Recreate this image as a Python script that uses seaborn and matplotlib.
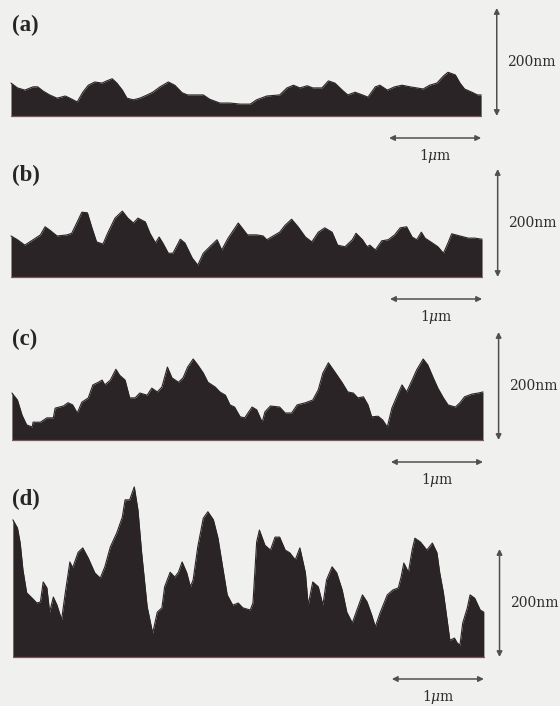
import matplotlib
matplotlib.use("Agg")
import matplotlib.pyplot as plt
import seaborn as sns

# Surface profiles: x in um along the scan line, height in nm
x_a = [0.00, 0.07, 0.15, 0.24, 0.29, 0.35, 0.42, 0.50, 0.59, 0.64, 0.72, 0.78, 0.84, 0.91, 0.99,
       1.04, 1.10, 1.15, 1.21, 1.26, 1.33, 1.40, 1.48, 1.54, 1.62, 1.71, 1.78, 1.86, 1.92, 2.02,
       2.09, 2.16, 2.27, 2.38, 2.49, 2.60, 2.67, 2.78, 2.92, 3.00, 3.07, 3.14, 3.22, 3.28, 3.38,
       3.45, 3.52, 3.60, 3.66, 3.74, 3.82, 3.88, 3.96, 4.01, 4.09, 4.17, 4.25, 4.34, 4.41, 4.48,
       4.55, 4.63, 4.70, 4.75, 4.83, 4.88, 4.93, 5.01, 5.07, 5.11]
h_a = [61, 52, 48, 54, 54, 46, 39, 33, 37, 33, 26, 44, 57, 63, 61,
       65, 69, 61, 48, 33, 30, 33, 39, 44, 54, 63, 57, 43, 39, 39,
       39, 31, 24, 24, 22, 22, 30, 37, 39, 52, 57, 52, 56, 52, 52,
       65, 61, 48, 39, 44, 39, 35, 54, 57, 48, 54, 57, 54, 52, 50,
       57, 61, 74, 81, 76, 61, 50, 44, 39, 39]

x_b = [0.00, 0.07, 0.15, 0.24, 0.32, 0.37, 0.42, 0.50, 0.61, 0.66, 0.72, 0.77, 0.83, 0.88, 0.93,
       1.00, 1.05, 1.13, 1.21, 1.27, 1.33, 1.38, 1.46, 1.51, 1.57, 1.61, 1.65, 1.71, 1.76, 1.84,
       1.89, 1.97, 2.03, 2.09, 2.16, 2.24, 2.29, 2.36, 2.47, 2.57, 2.67, 2.74, 2.78, 2.92, 2.98,
       3.05, 3.12, 3.20, 3.27, 3.34, 3.41, 3.49, 3.55, 3.63, 3.71, 3.75, 3.82, 3.87, 3.90, 3.96,
       4.03, 4.10, 4.17, 4.23, 4.30, 4.36, 4.41, 4.46, 4.50, 4.58, 4.64, 4.70, 4.75, 4.79, 4.88,
       4.97, 5.04, 5.12]
h_b = [76, 69, 59, 69, 78, 93, 87, 76, 78, 81, 102, 120, 119, 91, 65,
       61, 81, 109, 122, 109, 100, 109, 102, 81, 63, 74, 63, 44, 44, 70,
       63, 35, 22, 44, 56, 69, 50, 72, 100, 78, 78, 76, 69, 83, 96,
       107, 93, 74, 65, 83, 91, 83, 59, 56, 69, 81, 69, 56, 59, 50,
       67, 69, 78, 91, 93, 74, 69, 83, 72, 63, 56, 44, 63, 80, 76,
       72, 72, 70]

x_c = [0.01, 0.07, 0.12, 0.17, 0.23, 0.24, 0.32, 0.39, 0.46, 0.48, 0.57, 0.62, 0.67, 0.72, 0.77,
       0.84, 0.89, 0.95, 0.99, 1.02, 1.08, 1.14, 1.18, 1.24, 1.29, 1.35, 1.40, 1.48, 1.53, 1.59,
       1.64, 1.70, 1.75, 1.82, 1.87, 1.92, 1.98, 2.03, 2.09, 2.14, 2.22, 2.27, 2.33, 2.38, 2.43,
       2.49, 2.54, 2.62, 2.67, 2.73, 2.76, 2.82, 2.92, 2.98, 3.05, 3.11, 3.20, 3.28, 3.34, 3.39,
       3.45, 3.52, 3.60, 3.66, 3.72, 3.77, 3.83, 3.88, 3.92, 3.99, 4.04, 4.09, 4.14, 4.20, 4.25,
       4.30, 4.36, 4.41, 4.48, 4.53, 4.59, 4.64, 4.70, 4.75, 4.83, 4.88, 4.93, 5.01, 5.08, 5.13]
h_c = [87, 74, 46, 28, 24, 33, 33, 41, 41, 59, 63, 69, 65, 50, 70,
       78, 102, 107, 111, 102, 111, 131, 120, 111, 78, 78, 87, 83, 96, 89,
       98, 135, 115, 107, 115, 135, 150, 139, 124, 107, 98, 89, 83, 65, 61,
       43, 41, 61, 56, 33, 52, 63, 61, 50, 50, 65, 69, 74, 93, 124,
       143, 126, 106, 89, 87, 78, 80, 65, 43, 44, 37, 24, 59, 83, 102,
       89, 111, 130, 150, 139, 115, 96, 78, 65, 61, 69, 80, 85, 87, 89]

x_d = [0.02, 0.07, 0.10, 0.13, 0.17, 0.23, 0.28, 0.32, 0.35, 0.39, 0.42, 0.46, 0.50, 0.55, 0.59,
       0.64, 0.67, 0.73, 0.78, 0.84, 0.91, 0.97, 1.02, 1.08, 1.15, 1.21, 1.24, 1.29, 1.34, 1.38,
       1.42, 1.48, 1.54, 1.59, 1.64, 1.67, 1.73, 1.78, 1.82, 1.86, 1.91, 1.95, 1.98, 2.03, 2.09,
       2.14, 2.20, 2.25, 2.30, 2.35, 2.41, 2.47, 2.52, 2.60, 2.63, 2.67, 2.70, 2.76, 2.82, 2.87,
       2.92, 2.98, 3.03, 3.09, 3.14, 3.20, 3.23, 3.28, 3.34, 3.39, 3.43, 3.49, 3.54, 3.60, 3.65,
       3.71, 3.76, 3.82, 3.87, 3.92, 3.96, 4.01, 4.09, 4.15, 4.21, 4.24, 4.27, 4.32, 4.36, 4.39,
       4.45, 4.52, 4.58, 4.63, 4.66, 4.70, 4.74, 4.77, 4.82, 4.85, 4.88, 4.91, 4.96, 4.99, 5.04,
       5.10, 5.14]
h_d = [254, 239, 211, 161, 119, 109, 100, 102, 139, 128, 83, 111, 96, 69, 119,
       176, 165, 194, 202, 183, 156, 146, 167, 204, 230, 259, 291, 291, 315, 272,
       193, 93, 44, 83, 91, 130, 157, 148, 157, 176, 156, 130, 143, 204, 257,
       269, 254, 220, 167, 115, 96, 100, 91, 87, 100, 213, 235, 207, 198, 222,
       222, 198, 193, 180, 202, 156, 96, 139, 130, 96, 143, 167, 156, 124, 83,
       63, 87, 115, 102, 78, 56, 81, 115, 124, 128, 148, 174, 157, 198, 220,
       213, 198, 211, 193, 156, 119, 69, 31, 35, 26, 22, 63, 91, 115, 109,
       87, 83]

labels = ["(a)", "(b)", "(c)", "(d)"]
profiles = [(x_a, h_a), (x_b, h_b), (x_c, h_c), (x_d, h_d)]
z_scale_nm = 200
x_scale_um = 1

# page layout (pixels): band top, band bottom, baseline, label height above baseline
W, H = 560, 706
X0 = 11              # left edge of profiles
PX_UM = 92.0         # pixels per um
NM_PX = 200 / 108.0  # nm per pixel
bands = [(0, 165, 116, 91), (165, 325, 277, 102), (325, 478, 440, 101), (478, 706, 657, 158)]

BG = "#f0f0ee"
INK = "#2a2426"
ARROW = "#505050"

sns.set_theme(style="white")
plt.rcParams["font.family"] = ["DejaVu Serif"]
plt.rcParams["mathtext.fontset"] = "dejavuserif"

fig = plt.figure(figsize=(W / 100, H / 100), dpi=100, facecolor=BG)

for lab, (xs, hs), (top, bot, base, lab_up) in zip(labels, profiles, bands):
    ax = fig.add_axes([0, 1 - bot / H, 1, (bot - top) / H])
    ax.set_axis_off()
    ax.patch.set_visible(False)
    ax.set_xlim(-X0 / PX_UM, (W - X0) / PX_UM)
    ax.set_ylim(-(bot - base) * NM_PX, (base - top) * NM_PX)

    ax.fill_between(xs, 0, hs, color=INK, lw=0)
    sns.lineplot(x=xs, y=hs, ax=ax, color=INK, lw=0.8)
    ax.plot([xs[0], xs[-1]], [0, 0], color="#7d5260", lw=0.9)

    # scale bars
    end = xs[-1]
    sx = end + 0.17
    ax.annotate("", xy=(sx, 0), xytext=(sx, z_scale_nm),
                arrowprops=dict(arrowstyle="<|-|>", color=ARROW, lw=1.1,
                                mutation_scale=8, shrinkA=0, shrinkB=0))
    ax.text(sx + 0.11, z_scale_nm / 2, f"{z_scale_nm}nm", fontsize=10,
            va="center", ha="left", color="#2e2e2e")
    hy = -22 * NM_PX
    ax.annotate("", xy=(end - x_scale_um, hy), xytext=(end, hy),
                arrowprops=dict(arrowstyle="<|-|>", color=ARROW, lw=1.1,
                                mutation_scale=8, shrinkA=0, shrinkB=0))
    ax.text(end - x_scale_um / 2, -40 * NM_PX, r"1$\mu$m", fontsize=10,
            va="center", ha="center", color="#2e2e2e")

    ax.text(0.01, lab_up * NM_PX, lab, fontsize=16.5, fontweight="bold",
            family="Liberation Serif", va="center", ha="left", color="#262626")

fig.savefig("out.png", dpi=100, facecolor=BG)
